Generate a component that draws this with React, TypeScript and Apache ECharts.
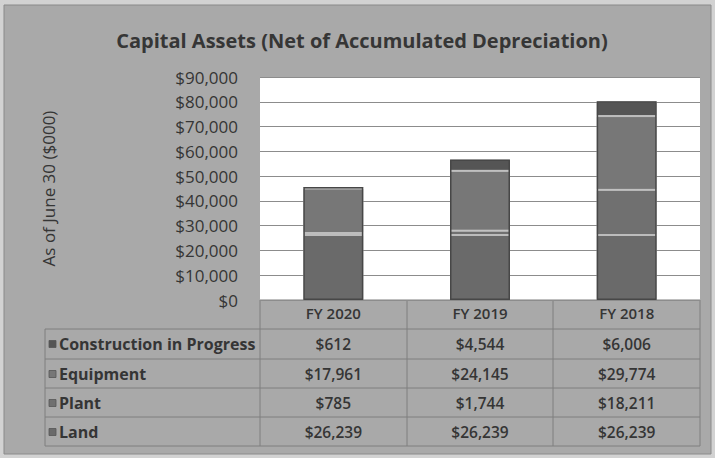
import React, { useEffect, useRef } from "react";
import * as echarts from "echarts";

const categories = ["FY 2020", "FY 2019", "FY 2018"];
const construction = [612, 4544, 6006];
const equipment = [17961, 24145, 29774];
const plant = [785, 1744, 18211];
const land = [26239, 26239, 26239];
const rowNames = ["Construction in Progress", "Equipment", "Plant", "Land"];
const yMin = 0;
const yMax = 90000;
const yStep = 10000;

const fmt = (v: number) => "$" + v.toLocaleString("en-US");

export default function App() {
  const ref = useRef<HTMLDivElement>(null);
  useEffect(() => {
    const chart = echarts.init(ref.current!, null, { renderer: "svg" });
    const font = '"Open Sans", sans-serif';
    const textColor = "#353535";
    const lineColor = "#7e7e7e";
    const rowData = [construction, equipment, plant, land];
    const rowColors = ["#555555", "#777777", "#707070", "#6a6a6a"];
    const plotL = 260, plotR = 700, plotT = 77, plotB = 300;
    const rowCenters = [344, 374, 403, 432];
    const rowLines = [329, 359, 388, 417, 446];
    const colLines = [260, 407, 553, 700];
    const tableLeft = 45;

    const totals = categories.map((_, i) => land[i] + plant[i] + equipment[i] + construction[i]);

    const xAxes: any[] = [
      {
        type: "category",
        data: categories,
        position: "bottom",
        axisLine: { show: false },
        axisTick: { show: false },
        axisLabel: { margin: 13, verticalAlign: "middle", color: textColor, fontSize: 15, fontWeight: 600, fontFamily: font },
      },
    ];
    rowData.forEach((arr, r) => {
      xAxes.push({
        type: "category",
        data: arr.map(fmt),
        position: "bottom",
        axisLine: { show: false },
        axisTick: { show: false },
        splitLine: { show: false },
        axisLabel: {
          margin: rowCenters[r] - plotB,
          verticalAlign: "middle",
          color: textColor,
          fontSize: 15.5,
          fontWeight: 600,
          fontFamily: font,
        },
      });
    });

    const stackOrder = [3, 2, 1, 0]; // land, plant, equipment, construction from bottom
    const series: any[] = stackOrder.map((r) => ({
      name: rowNames[r],
      type: "bar",
      stack: "total",
      xAxisIndex: 0,
      barWidth: 60,
      data: rowData[r],
      itemStyle: { color: rowColors[r], borderColor: "#bdbdbd", borderWidth: 1 },
    }));
    series.push({
      name: "outline",
      type: "bar",
      xAxisIndex: 0,
      barWidth: 60,
      barGap: "-100%",
      silent: true,
      z: 5,
      data: totals,
      itemStyle: { color: "rgba(0,0,0,0)", borderColor: "#474747", borderWidth: 1.5 },
    });

    const graphics: any[] = [
      {
        type: "rect",
        z: -100,
        shape: { x: 4, y: 5, width: 707, height: 449 },
        style: { fill: "#a9a9a9", stroke: "#8a8a8a", lineWidth: 1 },
      },
      {
        type: "text",
        style: {
          text: "Capital Assets (Net of Accumulated Depreciation)",
          x: 362,
          y: 40,
          align: "center",
          verticalAlign: "middle",
          fontSize: 20,
          fontWeight: "bold",
          fontFamily: font,
          fill: "#363636",
        },
      },
    ];
    graphics.push({ type: "line", shape: { x1: plotL, y1: plotB, x2: plotR, y2: plotB }, style: { stroke: lineColor, lineWidth: 1 } });
    rowLines.forEach((y) =>
      graphics.push({ type: "line", shape: { x1: tableLeft, y1: y, x2: plotR, y2: y }, style: { stroke: lineColor, lineWidth: 1 } })
    );
    graphics.push({ type: "line", shape: { x1: tableLeft, y1: rowLines[0], x2: tableLeft, y2: rowLines[4] }, style: { stroke: lineColor, lineWidth: 1 } });
    colLines.forEach((x) =>
      graphics.push({ type: "line", shape: { x1: x, y1: plotB, x2: x, y2: rowLines[4] }, style: { stroke: lineColor, lineWidth: 1 } })
    );
    rowNames.forEach((n, r) => {
      graphics.push({
        type: "rect",
        shape: { x: 49, y: rowCenters[r] - 3.5, width: 7, height: 7 },
        style: { fill: rowColors[r], stroke: "#555", lineWidth: 0.8 },
      });
      graphics.push({
        type: "text",
        style: {
          text: n,
          x: 59,
          y: rowCenters[r],
          verticalAlign: "middle",
          fontSize: 16,
          fontWeight: "bold",
          fontFamily: font,
          fill: textColor,
        },
      });
    });

    chart.setOption({
      animation: false,
      backgroundColor: "#d2d2d2",
      grid: {
        left: plotL,
        right: 715 - plotR,
        top: plotT,
        bottom: 458 - plotB,
        show: true,
        backgroundColor: "#ffffff",
        borderWidth: 0,
      },
      xAxis: xAxes,
      yAxis: {
        type: "value",
        min: yMin,
        max: yMax,
        interval: yStep,
        name: "As of June 30 ($000)",
        nameLocation: "middle",
        nameGap: 203,
        nameTextStyle: { color: textColor, fontSize: 17, fontFamily: font },
        axisLine: { show: false },
        axisTick: { show: false },
        axisLabel: { formatter: (v: number) => fmt(v), color: textColor, fontSize: 17, fontFamily: font, margin: 22 },
        splitLine: { lineStyle: { color: "#8c8c8c", width: 1 } },
      },
      series,
      graphic: graphics,
    });
    return () => chart.dispose();
  }, []);
  return <div ref={ref} style={{ position: "absolute", left: 0, top: 0, width: 715, height: 458 }} />;
}
